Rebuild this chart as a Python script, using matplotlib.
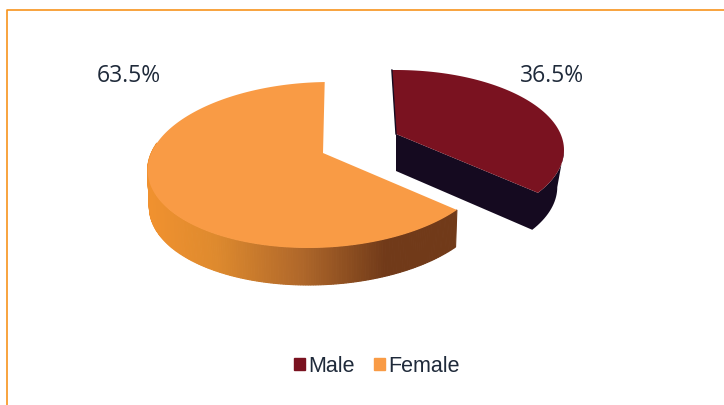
import matplotlib
matplotlib.use("Agg")
import matplotlib.pyplot as plt
from matplotlib.patches import Patch
from matplotlib.colors import to_rgb
import numpy as np

labels = ["Male", "Female"]
shares = [36.5, 63.5]
top_colors = ["#7A1220", "#F99B45"]
wall_dark = "#150A20"
# side wall of the orange slice goes from light to dark, left to right
wall_stops_x = [150, 215, 300, 385, 460]
wall_stops_c = ["#F0912F", "#DE8A2E", "#B0682A", "#713A19", "#713A19"]

# ellipse centre, slice tip, radii, start offset, squeeze and shear of the ellipse, wall height and taper
male_geo = dict(cx=396, cy=150, tipx=396, tipy=134, rx=168, ry=80, off=-1.4, squeeze=10.2,
                shear=0.0, depth=37, taper=0.96)
female_geo = dict(cx=319, cy=165, tipx=323, tipy=153, rx=171, ry=83, off=-1.7, squeeze=9.2,
                  shear=0.13, depth=37, taper=0.99)


def outline(theta, geo):
    # theta is the real pie angle clockwise from 12 o'clock, perspective squeezes it a bit
    t = np.radians(theta)
    phi = t + np.radians(geo["off"]) - np.radians(geo["squeeze"]) * np.sin(t)
    dy = -geo["ry"] * np.cos(phi)
    return geo["cx"] + geo["rx"] * np.sin(phi) - geo["shear"] * dy, geo["cy"] + dy


def lower(x, y, geo):
    return geo["tipx"] + (x - geo["tipx"]) * geo["taper"], y + geo["depth"]


fig = plt.figure(figsize=(7.24, 4.05), dpi=100)
ax = fig.add_axes([0, 0, 1, 1])
ax.set_xlim(0, 724)
ax.set_ylim(405, 0)
ax.axis("off")

# frame round the chart, open at the right and the bottom
ax.plot([6.5, 6.5, 724], [405, 9.5, 9.5], color="#F7941D", lw=1.2)

male_end = shares[0] / sum(shares) * 360

# male slice
theta = np.linspace(0, male_end, 80)
x, y = outline(theta, male_geo)
right = np.argmax(x)
xl, yl = lower(x[right:], y[right:], male_geo)
d = male_geo["depth"]
ax.fill(np.r_[male_geo["tipx"], male_geo["tipx"], xl[::-1], x[right:]],
        np.r_[male_geo["tipy"], male_geo["tipy"] + d, yl[::-1], y[right:]],
        color=wall_dark, lw=0)
ax.plot(np.r_[x[0], male_geo["tipx"]], np.r_[y[0], male_geo["tipy"]], color=wall_dark, lw=1)
ax.fill(np.r_[male_geo["tipx"], x], np.r_[male_geo["tipy"], y], color=top_colors[0], lw=0)

# female wall, thin quads coloured by x
theta = np.linspace(male_end, 278, 200)
x, y = outline(theta, female_geo)
xl, yl = lower(x, y, female_geo)
rgb = np.array([to_rgb(c) for c in wall_stops_c])
for i in range(len(theta) - 1):
    xm = (x[i] + x[i + 1]) / 2
    c = [np.interp(xm, wall_stops_x, rgb[:, k]) for k in range(3)]
    ax.fill([x[i], x[i + 1], xl[i + 1], xl[i]], [y[i], y[i + 1], yl[i + 1], yl[i]],
            facecolor=c, edgecolor=c, lw=0.8)

# female top
theta = np.linspace(male_end, 360, 200)
x, y = outline(theta, female_geo)
ax.fill(np.r_[female_geo["tipx"], x], np.r_[female_geo["tipy"], y], color=top_colors[1], lw=0)

# percentage labels
ax.text(129, 76, f"{shares[1]}%", fontsize=16.5, family="Open Sans", color="#1F2A3A", ha="center", va="center")
ax.text(552, 76, f"{shares[0]}%", fontsize=16.5, family="Open Sans", color="#1F2A3A", ha="center", va="center")

handles = [Patch(color=c, label=l) for c, l in zip(top_colors, labels)]
ax.legend(handles=handles, ncols=2, loc="center", bbox_to_anchor=(377 / 724, 1 - 366 / 405), frameon=False,
          handlelength=0.52, handleheight=0.52, handletextpad=0.15, columnspacing=0.9,
          prop=dict(family="Liberation Sans", size=15.5), labelcolor="#1F2A3A")

fig.savefig("out.png", dpi=100)
